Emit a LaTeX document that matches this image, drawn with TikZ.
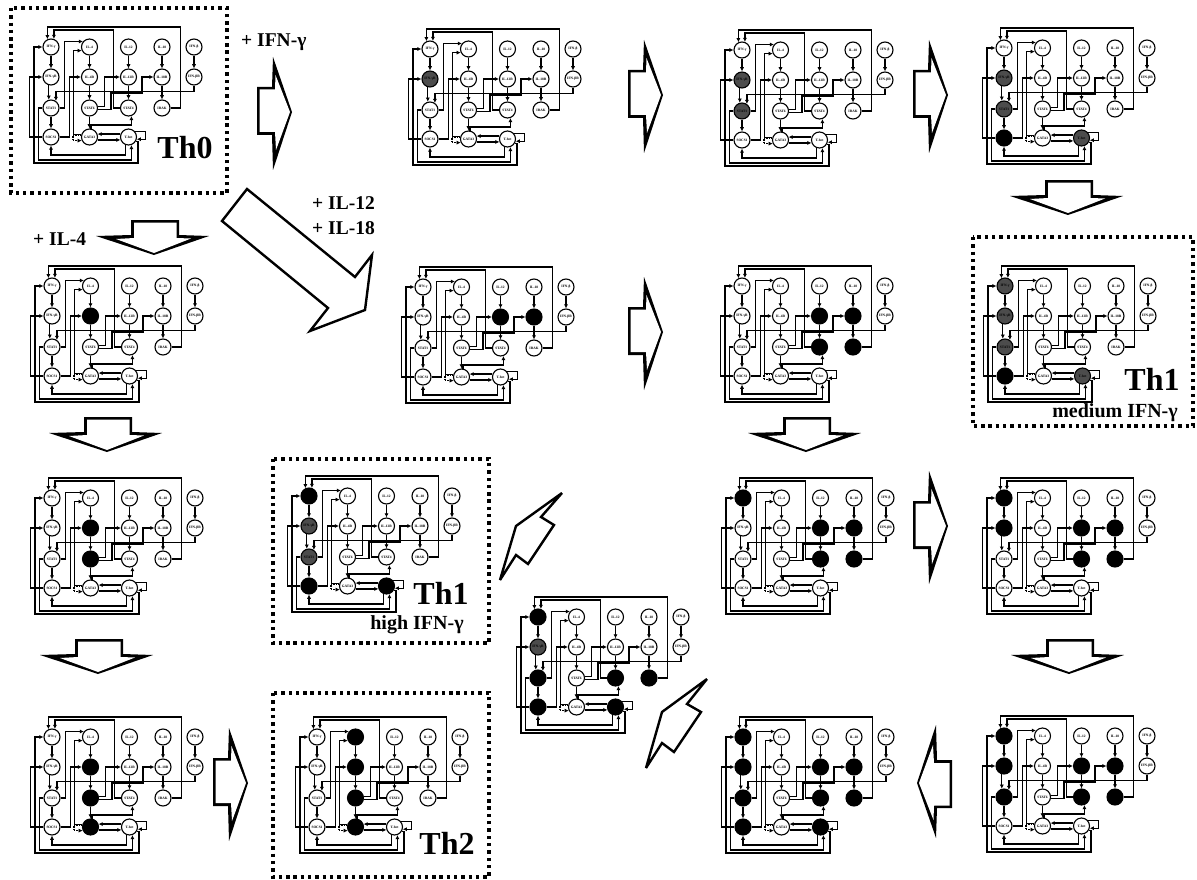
\documentclass[tikz,border=0pt]{standalone}
\usepackage{fontspec}
\setmainfont{Liberation Serif}
\usetikzlibrary{arrows.meta}

\tikzset{
    gene/.style={draw,circle,fill=white,line width=1.1pt,minimum size=16pt,inner sep=0pt,font=\bfseries\fontsize{3.5}{3.5}\selectfont},
    wire/.style={line width=1.2pt,-{Latex[length=4.2pt,width=4.2pt]}},
    nodegrey/.style={fill=black!70},
    nodeblack/.style={fill=black},
    cellbox/.style={line width=3.4pt,dash pattern=on 3.4pt off 3.9pt},
    bigarrow/.style={line width=2.4pt,fill=white,miter limit=4},
    celltype/.style={font=\bfseries\fontsize{32}{32}\selectfont,inner sep=0pt},
    cellnote/.style={font=\bfseries\fontsize{20}{20}\selectfont,inner sep=0pt},
    signal/.style={font=\bfseries\fontsize{19.5}{19.5}\selectfont,inner sep=0pt,anchor=west},
    ifng/.style={},ifngr/.style={},stat1/.style={},socs1/.style={},
    il4/.style={},il4r/.style={},stat6/.style={},gata3/.style={},
    il12/.style={},il12r/.style={},stat4/.style={},tbet/.style={},
    il18/.style={},il18r/.style={},irak/.style={},
    ifnb/.style={},ifnbr/.style={}
}

\newcommand{\grn}[4]{
    \begin{scope}[shift={(#2,#3)},#4]
    \foreach \n/\dx/\dy/\t in {
        ifng/0/0/IFN-γ, ifngr/0/30/IFN-γR, stat1/0/61/STAT1, socs1/0/90/SOCS1,
        il4/38.5/0/IL-4, il4r/38.5/30/IL-4R, stat6/38.5/61/STAT6, gata3/38.5/90/GATA3,
        il12/77.5/0/IL-12, il12r/77.5/30/IL-12R, stat4/77.5/61/STAT4, tbet/77.5/90/T-bet,
        il18/111/0/IL-18, il18r/111/30/IL-18R, irak/111/61/IRAK,
        ifnb/143/0/IFN-β, ifnbr/143/30/IFN-βR}
        \node[gene,\n] (#1\n) at (\dx,\dy) {\t};
    \foreach \s/\e in {ifng/ifngr,il4/il4r,il12/il12r,il18/il18r,ifnb/ifnbr,il4r/stat6,il12r/stat4,il18r/irak,stat1/socs1,stat6/gata3}
        \draw[wire] (#1\s) -- (#1\e);
    \draw[wire] (#1ifngr.255) -- (#1stat1.105);
    \draw[wire] (#1ifnbr.south) -- ++(0,6) -| (#1stat1.55);
    \draw[wire] (#1stat1.east) -- ++(5,0) |- (#1il4.140);
    \draw[wire] (#1socs1.east) -- ++(10,0) |- (#1il4r.west);
    \draw[wire] (#1gata3.165) -- ++(-8,0) |- (#1il4.205);
    \draw[wire,densely dotted] (#1gata3.170) -- ++(-8,0) |- (#1gata3.205);
    \draw[wire] (#1stat6.10) -- ++(6.5,0) |- (#1il12r.west);
    \draw[wire] (#1stat6.-10) -- ++(13,0) |- (91,46) |- (#1il18r.west);
    \draw[wire] (#1stat4.west) -- ++(-6.5,0) |- (#1ifng.70 |- 0,-17) -- (#1ifng.70);
    \draw[wire] (#1irak.east) -- ++(10,0) |- (#1ifng.115 |- 0,-20) -- (#1ifng.115);
    \draw[wire] (#1socs1.west) -- ++(-13,0) |- (#1ifngr.west);
    \draw[wire] (#1tbet.-30) -- ++(2,0) |- (-17,116) |- (#1ifng.west);
    \draw[wire] (#1stat1.west) -- ++(-4,0) |- (#1tbet.-70 |- 0,113) -- (#1tbet.-70);
    \draw[wire] (#1tbet.-110) |- (0,108) -- (#1socs1.south);
    \draw[wire] (#1gata3.80) |- (#1stat4.-70 |- 0,78) -- (#1stat4.-70);
    \draw[wire] (#1tbet.160) -- (#1gata3.20);
    \draw[wire] (#1gata3.-20) -- (#1tbet.-160);
    \draw[wire] (#1tbet.40) -- ++(10.5,0) |- (#1tbet.-15);
    \end{scope}
}

\newcommand{\blockarrow}[3]{
    \begin{scope}[shift={(#1,#2)},rotate=#3]
    \fill (-35,-25) -- (-20,-25) -- (-19,-55) -- (0,0) -- (-19,58) -- (-20,23) -- (-35,23) -- cycle;
    \fill[white] (-32.5,-22.5) -- (-17,-22.5) -- (-16.5,-37) -- (-2,0) -- (-16,38) -- (-17,20) -- (-32.5,20) -- cycle;
    \end{scope}
}

\begin{document}
\begin{tikzpicture}[x=1pt,y=-1pt]
    \useasboundingbox (0,0) rectangle (1197,880);
    \fill[white] (0,0) rectangle (1197,880);

    \grn{a}{51}{47}{}
    \grn{b}{430}{49}{ifngr/.style=nodegrey}
    \grn{c}{742}{50}{ifngr/.style=nodegrey,stat1/.style=nodegrey}
    \grn{d}{1004}{48}{ifngr/.style=nodegrey,stat1/.style=nodegrey,socs1/.style=nodeblack,tbet/.style=nodegrey}

    \grn{e}{52}{286}{il4r/.style=nodeblack}
    \grn{f}{423}{287}{il12r/.style=nodeblack,il18r/.style=nodeblack}
    \grn{g}{742}{286}{il12r/.style=nodeblack,il18r/.style=nodeblack,stat4/.style=nodeblack,irak/.style=nodeblack}
    \grn{h}{1005}{286}{ifng/.style=nodegrey,ifngr/.style=nodegrey,stat1/.style=nodegrey,socs1/.style=nodeblack,tbet/.style=nodegrey}

    \grn{i}{52}{498}{il4r/.style=nodeblack,stat6/.style=nodeblack}
    \grn{j}{309}{496}{ifng/.style=nodeblack,ifngr/.style=nodegrey,stat1/.style=nodegrey,socs1/.style=nodeblack,tbet/.style=nodeblack}
    \grn{k}{743}{498}{ifng/.style=nodeblack,il12r/.style=nodeblack,il18r/.style=nodeblack,stat4/.style=nodeblack,irak/.style=nodeblack}
    \grn{l}{1004}{498}{ifng/.style=nodeblack,ifngr/.style=nodeblack,il12r/.style=nodeblack,il18r/.style=nodeblack,stat4/.style=nodeblack,irak/.style=nodeblack}

    \grn{m}{538}{617}{ifng/.style=nodeblack,ifngr/.style=nodegrey,stat1/.style=nodeblack,socs1/.style=nodeblack,stat4/.style=nodeblack,irak/.style=nodeblack,tbet/.style=nodeblack}

    \grn{n}{52}{737}{il4r/.style=nodeblack,stat6/.style=nodeblack,gata3/.style=nodeblack}
    \grn{o}{317}{737}{il4/.style=nodeblack,il4r/.style=nodeblack,stat6/.style=nodeblack,gata3/.style=nodeblack}
    \grn{p}{743}{737}{ifng/.style=nodeblack,ifngr/.style=nodeblack,stat1/.style=nodeblack,socs1/.style=nodeblack,il12r/.style=nodeblack,il18r/.style=nodeblack,stat4/.style=nodeblack,irak/.style=nodeblack,tbet/.style=nodeblack}
    \grn{q}{1004}{736}{ifng/.style=nodeblack,ifngr/.style=nodeblack,stat1/.style=nodeblack,il12r/.style=nodeblack,il18r/.style=nodeblack,stat4/.style=nodeblack,irak/.style=nodeblack}

    \draw[cellbox] (11,8) rectangle (227,193);
    \draw[cellbox] (973,237) rectangle (1193,426);
    \draw[cellbox] (273,459) rectangle (489,643);
    \draw[cellbox] (273,693) rectangle (489,877);

    \node[celltype] (th0) at (185,148) {Th0};
    \node[celltype] (th1med) at (1152,379) {Th1};
    \node[celltype] (th1high) at (441,593) {Th1};
    \node[celltype] (th2) at (447,843) {Th2};
    \node[cellnote] (medium) at (1115,413) {medium IFN-γ};
    \node[cellnote] (high) at (417,625) {high IFN-γ};

    \node[signal] (ifnsig) at (241,42) {+ IFN-γ};
    \node[signal] (il12sig) at (312,203) {+ IL-12};
    \node[signal] (il18sig) at (312,228) {+ IL-18};
    \node[signal] (il4sig) at (33,239) {+ IL-4};

    \blockarrow{292}{112}{0}
    \blockarrow{663}{95}{0}
    \blockarrow{948}{95}{0}
    \blockarrow{1068}{215}{-90}
    \blockarrow{154}{255}{-90}
    \blockarrow{107}{452}{-90}
    \blockarrow{98}{674}{-90}
    \blockarrow{248}{783}{0}
    \blockarrow{663}{332}{0}
    \blockarrow{806}{452}{-90}
    \blockarrow{948}{526}{0}
    \blockarrow{1069}{674}{-90}
    \blockarrow{917}{783}{180}

    \draw[bigarrow] (247,189) -- (355,277) -- (372,255) -- (365,310) -- (310,331) -- (328,308) -- (222,221) -- cycle;
    \draw[bigarrow] (562,493) -- (516,526) -- (500,580) -- (516,555) -- (528,564) -- (554,525) -- (541,517) -- cycle;
    \draw[bigarrow] (707,679) -- (662,712) -- (646,768) -- (662,743) -- (674,752) -- (701,712) -- (687,704) -- cycle;
\end{tikzpicture}
\end{document}
